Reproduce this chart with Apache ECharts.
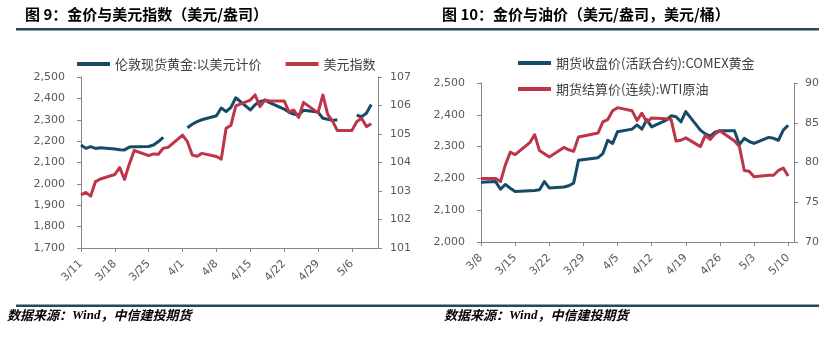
<!DOCTYPE html>
<html>
<head>
<meta charset="utf-8">
<script src="https://cdn.jsdelivr.net/npm/echarts@6/dist/echarts.min.js"></script>
<style>
  html, body { margin: 0; padding: 0; background: #fff; }
  #chart { width: 825px; height: 337px; }
</style>
</head>
<body>
<div id="chart"></div>
<script>
// ---- Figure 9: London spot gold vs US dollar index ----
const leftDates = [
  '3/11','3/12','3/13','3/14','3/15',
  '3/18','3/19','3/20','3/21','3/22',
  '3/25','3/26','3/27','3/28','3/29',
  '4/1','4/2','4/3','4/4','4/5',
  '4/8','4/9','4/10','4/11','4/12',
  '4/15','4/16','4/17','4/18','4/19',
  '4/22','4/23','4/24','4/25','4/26',
  '4/29','4/30','5/1','5/2','5/3',
  '5/6','5/7','5/8','5/9','5/10'
];
// null = London market holiday (line breaks there)
const londonGold = [
  2182, 2166, 2174, 2166, 2169,
  2163, 2160, 2159, 2172, 2174,
  2175, 2182, 2198, 2218, null,
  null, 2263, 2279, 2291, 2300,
  2319, 2355, 2338, 2358, 2403,
  2346, 2370, 2385, 2392, 2380,
  2350, 2335, 2326, 2323, 2344,
  2336, 2307, 2302, 2297, 2300,
  null, 2321, 2314, 2330, 2371
];
const dollarIndex = [
  102.86, 102.95, 102.82, 103.33, 103.42,
  103.58, 103.82, 103.41, 103.95, 104.42,
  104.24, 104.30, 104.29, 104.50, 104.53,
  104.96, 104.73, 104.26, 104.22, 104.32,
  104.21, 104.12, 105.20, 105.31, 105.99,
  106.19, 106.37, 105.96, 106.19, 106.16,
  106.16, 105.78, 105.84, 105.58, 106.11,
  105.74, 106.37, 105.69, 105.45, 105.12,
  105.12, 105.43, 105.55, 105.26, 105.36
];
const leftTickLabels = ['3/11','3/18','3/25','4/1','4/8','4/15','4/22','4/29','5/6'];

// ---- Figure 10: COMEX gold vs WTI crude ----
const rightDates = [
  '3/8',
  '3/11','3/12','3/13','3/14','3/15',
  '3/18','3/19','3/20','3/21','3/22',
  '3/25','3/26','3/27','3/28',
  '4/1','4/2','4/3','4/4','4/5',
  '4/8','4/9','4/10','4/11','4/12',
  '4/15','4/16','4/17','4/18','4/19',
  '4/22','4/23','4/24','4/25','4/26',
  '4/29','4/30','5/1','5/2','5/3',
  '5/6','5/7','5/8','5/9','5/10'
];
const comexGold = [
  2188,
  2190, 2166, 2181, 2169, 2159,
  2161, 2162, 2164, 2190, 2170,
  2173, 2177, 2185, 2257,
  2265, 2278, 2320, 2310, 2347,
  2355, 2368, 2355, 2385, 2362,
  2383, 2397, 2394, 2378, 2410,
  2352, 2340, 2333, 2345, 2350,
  2350, 2306, 2326, 2316, 2310,
  2329, 2326, 2320, 2352, 2367
];
const wtiOil = [
  78.0,
  78.0, 77.6, 79.7, 81.3, 81.0,
  82.5, 83.5, 81.5, 81.1, 80.7,
  81.9, 81.6, 81.4, 83.2,
  83.7, 85.1, 85.4, 86.5, 86.9,
  86.5, 85.3, 86.2, 85.1, 85.6,
  85.5, 85.4, 82.7, 82.8, 83.1,
  82.0, 83.4, 82.9, 83.6, 84.0,
  82.7, 82.0, 79.0, 78.9, 78.2,
  78.4, 78.4, 79.0, 79.3, 78.3
];
const rightTickLabels = ['3/8','3/15','3/22','3/29','4/5','4/12','4/19','4/26','5/3','5/10'];

const YEAR = 2024;
const BLUE = '#164a67';
const RED = '#be3448';
const AXIS = '#868686';
const LABEL = '#595959';
const NUM_FONT = 'DejaVu Sans';
const CJK_FONT = 'Noto Sans CJK SC';

// calendar-day offset of an 'M/D' string from the first date of a chart
function dayOffset(md, startMd) {
  const [m, d] = md.split('/').map(Number);
  const [sm, sd] = startMd.split('/').map(Number);
  return Math.round((Date.UTC(YEAR, m - 1, d) - Date.UTC(YEAR, sm - 1, sd)) / 86400000);
}
function toPoints(dates, values) {
  return dates.map((d, i) => [dayOffset(d, dates[0]), values[i] == null ? '-' : values[i]]);
}

function dateAxis(gridIndex, max, ticks) {
  return {
    type: 'value', gridIndex, min: 0, max, interval: 7,
    axisLine: { show: true, lineStyle: { color: AXIS, width: 1 } },
    axisTick: { show: true, length: 4, lineStyle: { color: AXIS } },
    splitLine: { show: false },
    axisLabel: {
      rotate: 45, margin: 14, fontSize: 11, color: LABEL, fontFamily: NUM_FONT,
      showMaxLabel: false,
      formatter: v => (v % 7 === 0 && ticks[v / 7] !== undefined) ? ticks[v / 7] : ''
    }
  };
}
function valueAxis(gridIndex, position, min, max, interval, margin, fmt) {
  return {
    type: 'value', gridIndex, position, min, max, interval,
    axisLine: { show: true, lineStyle: { color: AXIS, width: 1 } },
    axisTick: { show: true, length: 4, lineStyle: { color: AXIS } },
    splitLine: { show: false },
    axisLabel: { margin, fontSize: 11, color: LABEL, fontFamily: NUM_FONT, formatter: fmt }
  };
}
const thousands = v => v.toLocaleString('en-US');

function lineSeries(name, color, xIdx, yIdx, data) {
  return {
    type: 'line', name, xAxisIndex: xIdx, yAxisIndex: yIdx, data,
    symbol: 'none', connectNulls: false, animation: false,
    lineStyle: { color, width: 3, join: 'round' },
    itemStyle: { color }
  };
}

const legendText = { fontSize: 13, color: '#404040', fontFamily: CJK_FONT, lineHeight: 16 };
const sourceRich = {
  a: { fontSize: 13, fontWeight: 'bold', fontStyle: 'italic', fontFamily: CJK_FONT, fill: '#000' },
  b: { fontSize: 13, fontWeight: 'bold', fontStyle: 'italic', fontFamily: 'Liberation Serif', fill: '#000' }
};
function sourceText(x) {
  return {
    type: 'text', left: x, top: 309,
    style: { text: '{a|数据来源：}{b|Wind}{a|，中信建投期货}', rich: sourceRich, fill: '#000' }
  };
}
function titleText(x, text) {
  return {
    type: 'text', left: x, top: 7,
    style: { text, font: 'bold 15px "Noto Sans CJK SC"', fill: '#000' }
  };
}

const chart = echarts.init(document.getElementById('chart'), null, { renderer: 'canvas' });
chart.setOption({
  backgroundColor: '#fff',
  animation: false,
  grid: [
    { left: 81, top: 77, width: 297, height: 171, containLabel: false, outerBoundsMode: 'none' },
    { left: 481, top: 83, width: 313, height: 159, containLabel: false, outerBoundsMode: 'none' }
  ],
  legend: [
    {
      left: 77, top: 56, padding: 0, itemWidth: 33, itemHeight: 4, itemGap: 24,
      icon: 'rect', selectedMode: false, textStyle: legendText,
      data: ['伦敦现货黄金:以美元计价', '美元指数']
    },
    {
      left: 518, top: 55, padding: 0, orient: 'vertical', itemWidth: 33, itemHeight: 4, itemGap: 10,
      icon: 'rect', selectedMode: false, textStyle: legendText,
      data: ['期货收盘价(活跃合约):COMEX黄金', '期货结算价(连续):WTI原油']
    }
  ],
  xAxis: [
    dateAxis(0, 61.4, leftTickLabels),
    dateAxis(1, 64.2, rightTickLabels)
  ],
  yAxis: [
    valueAxis(0, 'left', 1700, 2500, 100, 16, thousands),
    valueAxis(0, 'right', 101, 107, 1, 12),
    valueAxis(1, 'left', 2000, 2500, 100, 16, thousands),
    valueAxis(1, 'right', 70, 90, 5, 11)
  ],
  series: [
    lineSeries('伦敦现货黄金:以美元计价', BLUE, 0, 0, toPoints(leftDates, londonGold)),
    lineSeries('美元指数', RED, 0, 1, toPoints(leftDates, dollarIndex)),
    lineSeries('期货收盘价(活跃合约):COMEX黄金', BLUE, 1, 2, toPoints(rightDates, comexGold)),
    lineSeries('期货结算价(连续):WTI原油', RED, 1, 3, toPoints(rightDates, wtiOil))
  ],
  graphic: [
    titleText(25, '图 9：金价与美元指数（美元/盎司）'),
    titleText(442, '图 10：金价与油价（美元/盎司，美元/桶）'),
    { type: 'rect', shape: { x: 16, y: 28, width: 803, height: 2.5 }, style: { fill: '#24495a' } },
    { type: 'rect', shape: { x: 16, y: 304.5, width: 803, height: 2.5 }, style: { fill: '#24495a' } },
    sourceText(7),
    sourceText(444)
  ]
});
</script>
</body>
</html>
